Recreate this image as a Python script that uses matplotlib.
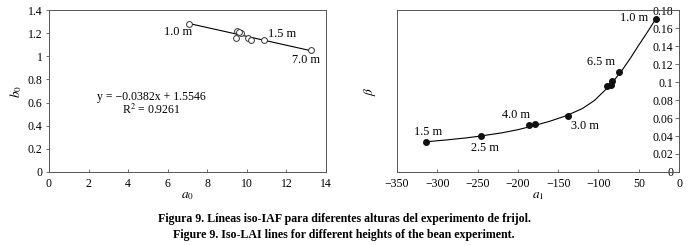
import matplotlib
matplotlib.use("Agg")
import matplotlib.pyplot as plt

plt.rcParams["font.family"] = ["Liberation Serif", "DejaVu Serif"]
plt.rcParams["mathtext.fontset"] = "stix"

# left panel: a0 vs b0
a0 = [7.1, 9.51, 9.68, 9.46, 9.6, 10.07, 10.2, 10.89, 13.22]
b0 = [1.277, 1.219, 1.199, 1.161, 1.21, 1.156, 1.138, 1.14, 1.054]
fit_x = [7.1, 13.25]
fit_y = [1.283, 1.048]
left_labels = [("1.0 m", 6.5, 1.21), ("1.5 m", 11.8, 1.193), ("7.0 m", 13.0, 0.968)]
left_xticks = [0, 2, 4, 6, 8, 10, 12, 14]
left_yticks = [0, 0.2, 0.4, 0.6, 0.8, 1.0, 1.2, 1.4]
left_yticklabels = ["0", "0.2", "0.4", "0.6", "0.8", "1", "1.2", "1.4"]

# right panel: a1 vs beta
a1 = [-313.5, -246, -186, -179, -137.4, -89, -85, -83, -74.6, -29]
beta = [0.0335, 0.040, 0.052, 0.0535, 0.0625, 0.0955, 0.097, 0.1008, 0.1113, 0.170]
curve_x = [-315, -290, -265, -246, -220, -200, -180, -160, -140, -120,
           -105, -90, -80, -70, -60, -50, -40, -29]
curve_y = [0.0335, 0.0355, 0.0378, 0.040, 0.0435, 0.047, 0.0515, 0.0565, 0.0625, 0.0705,
           0.0795, 0.0925, 0.1025, 0.114, 0.127, 0.141, 0.1545, 0.170]
right_labels = [("1.0 m", -56.3, 0.171), ("6.5 m", -96.4, 0.1227), ("4.0 m", -201.9, 0.0634),
                ("3.0 m", -117.1, 0.051), ("1.5 m", -311.9, 0.0442), ("2.5 m", -240.3, 0.0264)]
right_xticks = [-350, -300, -250, -200, -150, -100, -50, 0]
right_xticklabels = ["\u2212350", "\u2212300", "\u2212250", "\u2212200", "\u2212150", "\u2212100", "50", "0"]
right_yticks = [0, 0.02, 0.04, 0.06, 0.08, 0.10, 0.12, 0.14, 0.16, 0.18]
right_yticklabels = ["0", "0.02", "0.04", "0.06", "0.08", "0.1", "0.12", "0.14", "0.16", "0.18"]

fig = plt.figure(figsize=(6.88, 2.45), dpi=100)
spine_col = "#555555"
fs = 8.5
lfs = 8.8

# ---- left
ax1 = fig.add_axes([0.0712, 0.298, 0.4026, 0.661])
ax1.plot(fit_x, fit_y, color="black", lw=0.8)
ax1.plot(a0, b0, "o", mfc="white", mec="#333333", mew=0.7, ms=4.2, ls="none")
for txt, x, y in left_labels:
    ax1.text(x, y, txt, ha="center", va="center", fontsize=lfs)
ax1.text(5.2, 0.648, "y = \u22120.0382x + 1.5546", ha="center", va="center", fontsize=8.5)
ax1.text(5.2, 0.536, "R$^2$ = 0.9261", ha="center", va="center", fontsize=8.5)
ax1.set_xlim(0, 14)
ax1.set_ylim(0, 1.4)
ax1.set_xticks(left_xticks)
ax1.set_yticks(left_yticks)
ax1.set_yticklabels(left_yticklabels)
ax1.tick_params(axis="y", labelsize=fs, length=2.5, width=0.6, color=spine_col, pad=2)
ax1.tick_params(axis="x", direction="in", labelsize=fs, length=2.5, width=0.6, color=spine_col, pad=4)
ax1.set_xlabel("$a_0$", fontsize=9.5, labelpad=0)
ax1.set_ylabel("$b_0$", fontsize=9.5, labelpad=3)
for s in ax1.spines.values():
    s.set_color(spine_col)
    s.set_linewidth(0.7)

# ---- right
ax2 = fig.add_axes([0.577, 0.298, 0.410, 0.661])
ax2.plot(curve_x, curve_y, color="black", lw=0.8)
ax2.plot(a1, beta, "o", color="#111111", ms=4.0, ls="none")
for txt, x, y in right_labels:
    ax2.text(x, y, txt, ha="center", va="center", fontsize=lfs)
ax2.set_xlim(-350, 0)
ax2.set_ylim(0, 0.18)
ax2.set_xticks(right_xticks)
ax2.set_xticklabels(right_xticklabels)
ax2.set_yticks(right_yticks)
ax2.set_yticklabels(right_yticklabels)
ax2.yaxis.set_ticks_position("right")
ax2.tick_params(axis="y", direction="in", length=3, width=0.6, color=spine_col, pad=-4, labelsize=fs)
for lbl in ax2.get_yticklabels():
    lbl.set_horizontalalignment("right")
ax2.tick_params(axis="x", direction="in", length=2.5, width=0.6, color=spine_col, pad=4, labelsize=fs)
ax2.set_xlabel("$a_1$", fontsize=9.5, labelpad=0)
ax2.set_ylabel("$\\beta$", fontsize=9.5, labelpad=14)
for s in ax2.spines.values():
    s.set_color(spine_col)
    s.set_linewidth(0.7)

fig.text(0.5, 1 - 219 / 245, "Figura 9. L\u00edneas iso-IAF para diferentes alturas del experimento de frijol.",
         ha="center", va="center", fontsize=8.6, fontweight="bold")
fig.text(0.5, 1 - 235 / 245, "Figure 9. Iso-LAI lines for different heights of the bean experiment.",
         ha="center", va="center", fontsize=8.6, fontweight="bold")

fig.savefig("out.png", dpi=100)
